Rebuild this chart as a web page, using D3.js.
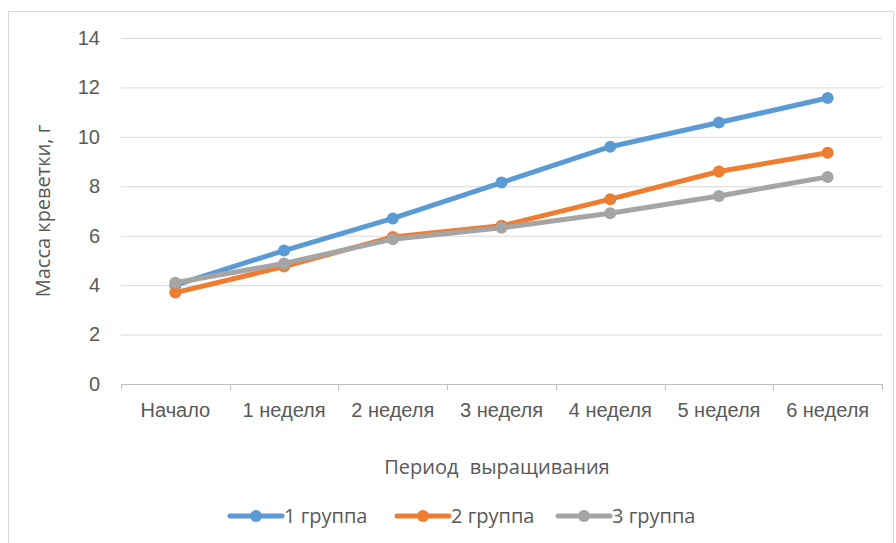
<!DOCTYPE html>
<html>
<head>
<meta charset="utf-8">
<script src="https://cdn.jsdelivr.net/npm/d3@7"></script>
<style>
  html, body { margin: 0; padding: 0; background: #fff; }
  svg { display: block; font-family: "Open Sans", "Noto Sans", sans-serif; }
</style>
</head>
<body>
<svg id="chart" width="896" height="543"></svg>
<script>
// Periods of rearing
const categories = ["Начало", "1 неделя", "2 неделя", "3 неделя", "4 неделя", "5 неделя", "6 неделя"];
// Shrimp mass, g
const group1 = [4.0, 5.4, 6.7, 8.15, 9.6, 10.58, 11.57];
const group2 = [3.7, 4.75, 5.95, 6.4, 7.48, 8.6, 9.36];
const group3 = [4.1, 4.88, 5.86, 6.32, 6.91, 7.61, 8.38];
const seriesNames = ["1 группа", "2 группа", "3 группа"];
const seriesColors = ["#5B9BD5", "#ED7D31", "#A5A5A5"];
const yTicks = [0, 2, 4, 6, 8, 10, 12, 14];

const series = [group1, group2, group3].map((values, i) => ({
  name: seriesNames[i], color: seriesColors[i], values
}));

const FS = 20;
const svg = d3.select("#chart");
const plot = { left: 121, right: 882, top: 38, bottom: 384 };

// outer chart frame
svg.append("rect")
  .attr("x", 8.5).attr("y", 11.5)
  .attr("width", 885).attr("height", 560)
  .attr("fill", "#fff").attr("stroke", "#d9d9d9");

const x = d3.scaleBand().domain(categories).range([plot.left, plot.right]);
const y = d3.scaleLinear().domain([0, 14]).range([plot.bottom, plot.top]);

// horizontal gridlines and value labels
const yAxis = d3.axisLeft(y).tickValues(yTicks).tickSize(-(plot.right - plot.left)).tickPadding(21);
const gy = svg.append("g").attr("transform", `translate(${plot.left},0)`).call(yAxis);
gy.select(".domain").remove();
gy.selectAll(".tick line").attr("stroke", "#d9d9d9").attr("stroke-width", 1);
gy.selectAll(".tick text").attr("fill", "#595959").attr("font-size", FS);

// category axis
const xAxis = d3.axisBottom(x).tickSize(0).tickPadding(19);
const gx = svg.append("g").attr("transform", `translate(0,${plot.bottom})`).call(xAxis);
gx.select(".domain").attr("stroke", "#bfbfbf").attr("d", `M${plot.left},0.5H${plot.right}`);
gx.selectAll(".tick text").attr("fill", "#595959").attr("font-size", FS);
const bounds = categories.map(c => x(c)).concat([plot.right]);
gx.selectAll(".bound").data(bounds).join("line")
  .attr("class", "bound")
  .attr("x1", d => Math.round(d) + 0.5).attr("x2", d => Math.round(d) + 0.5)
  .attr("y1", 0).attr("y2", 6)
  .attr("stroke", "#bfbfbf");

// axis titles
svg.append("text")
  .attr("x", 497).attr("y", 474)
  .attr("text-anchor", "middle").attr("fill", "#595959").attr("font-size", FS)
  .attr("word-spacing", 6)
  .text("Период выращивания");
svg.append("text")
  .attr("transform", `translate(50,${(plot.top + plot.bottom) / 2}) rotate(-90)`)
  .attr("text-anchor", "middle").attr("fill", "#595959").attr("font-size", FS)
  .text("Масса креветки, г");

// lines with markers
const cx = c => x(c) + x.bandwidth() / 2;
const line = d3.line().x((d, i) => cx(categories[i])).y(d => y(d));
const gs = svg.append("g").selectAll("g").data(series).join("g");
gs.append("path")
  .attr("d", d => line(d.values))
  .attr("fill", "none").attr("stroke", d => d.color)
  .attr("stroke-width", 5).attr("stroke-linejoin", "round").attr("stroke-linecap", "round");
gs.selectAll("circle").data(d => d.values.map(v => ({ v, color: d.color })))
  .join("circle")
  .attr("cx", (d, i) => cx(categories[i])).attr("cy", d => y(d.v))
  .attr("r", 6).attr("fill", d => d.color);

// legend
const legendX = [230, 397, 558];
const lg = svg.append("g").selectAll("g").data(series).join("g")
  .attr("transform", (d, i) => `translate(${legendX[i]},516)`);
lg.append("line").attr("x1", 0).attr("x2", 52).attr("y1", 0).attr("y2", 0)
  .attr("stroke", d => d.color).attr("stroke-width", 5).attr("stroke-linecap", "round");
lg.append("circle").attr("cx", 26).attr("cy", 0).attr("r", 6).attr("fill", d => d.color);
lg.append("text").attr("x", 54).attr("y", 0).attr("dy", "0.35em")
  .attr("fill", "#595959").attr("font-size", FS).text(d => d.name);
</script>
</body>
</html>
